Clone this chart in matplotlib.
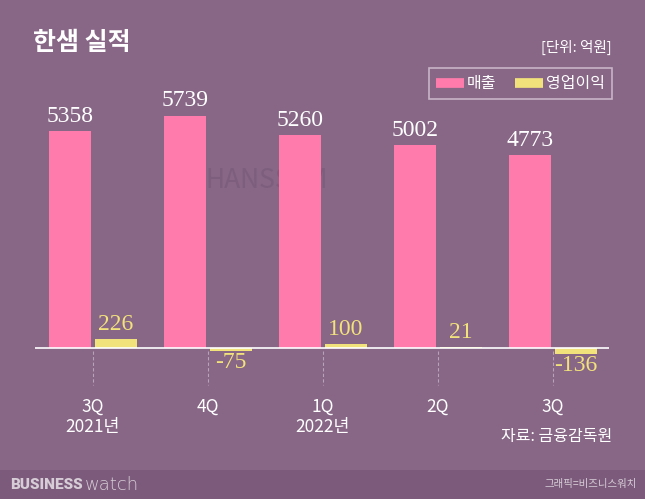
import matplotlib.pyplot as plt
from matplotlib.patches import Rectangle
from matplotlib.lines import Line2D

plt.rcParams['font.family'] = ['Noto Sans CJK KR', 'DejaVu Sans']

# data (억원)
quarters = ['3Q\n2021년', '4Q', '1Q\n2022년', '2Q', '3Q']
sales = [5358, 5739, 5260, 5002, 4773]
op_profit = [226, -75, 100, 21, -136]

bg = '#876686'
pink = '#ff7bac'
yellow = '#f2e27c'

fig = plt.figure(figsize=(6.45, 4.99), dpi=100, facecolor=bg)

# footer band
fig.patches.append(Rectangle((0, 0), 1, 29 / 499, transform=fig.transFigure,
                             facecolor='#7b5a7b', edgecolor='none', zorder=0))

ax = fig.add_axes([35 / 645, 1 - 360 / 499, 574 / 645, 260 / 499])
ax.set_facecolor('none')
for s in ax.spines.values():
    s.set_visible(False)

x = list(range(len(quarters)))
w = 0.36
off = 0.2
ax.bar([i - off for i in x], sales, width=w, color=pink, zorder=2)
ax.bar([i + off for i in x], op_profit, width=w, color=yellow, zorder=2)

ax.set_xlim(-0.504, 4.487)
ax.set_ylim(-296, 6123)
ax.axhline(0, color='white', lw=1.2, zorder=3)

# dashed tick guides
for i in x:
    ax.plot([i, i], [0.035, -0.096], transform=ax.get_xaxis_transform(),
            color='#b9a3b8', lw=0.8, ls=(0, (3, 2)), clip_on=False)

ax.set_yticks([])
ax.set_xticks(x)
ax.set_xticklabels(quarters, color='white', fontsize=12.5, linespacing=1.2)
ax.tick_params(axis='x', length=0, pad=27)

# value labels
for i, v in enumerate(sales):
    ax.annotate(f'{v}', (i - off, v), xytext=(0, 3), textcoords='offset points',
                ha='center', va='bottom', color='white', fontsize=17,
                family='Liberation Serif', zorder=4)
for i, v in enumerate(op_profit):
    if v >= 0:
        ax.annotate(f'{v}', (i + off, v), xytext=(0, 3), textcoords='offset points',
                    ha='center', va='bottom', color=yellow, fontsize=17,
                    family='Liberation Serif', zorder=4)
    else:
        ax.annotate(f'-{abs(v)}', (i + off, v), xytext=(0, -1), textcoords='offset points',
                    ha='center', va='top', color=yellow, fontsize=17,
                    family='Liberation Serif', zorder=4)

# faint watermark behind the bars
ax.text(205 / 645, 1 - 180 / 499, 'HANSSEM', transform=fig.transFigure,
        color='#7d5f7d', fontsize=19, va='center', ha='left', zorder=1)

# title & unit
fig.text(33 / 645, 1 - 43 / 499, '한샘 실적', color='white', fontsize=18,
         fontweight='heavy', va='center', ha='left')
fig.text(612 / 645, 1 - 47 / 499, '[단위: 억원]', color='white', fontsize=10.5,
         va='center', ha='right')

# legend
handles = [Line2D([], [], color=pink, lw=7, solid_capstyle='butt'),
           Line2D([], [], color=yellow, lw=7, solid_capstyle='butt')]
leg = fig.legend(handles, ['매출', '영업이익'], loc='upper right',
                 bbox_to_anchor=(612 / 645, 1 - 68 / 499), ncol=2, frameon=True,
                 fancybox=False, fontsize=11.5, handlelength=1.7,
                 handletextpad=0.2, columnspacing=1.2, borderpad=0.45,
                 borderaxespad=0, labelcolor='white')
leg.get_frame().set_facecolor('none')
leg.get_frame().set_edgecolor('#d9c9d8')
leg.get_frame().set_linewidth(1.2)

# source & footer
fig.text(612 / 645, 1 - 437 / 499, '자료: 금융감독원', color='white', fontsize=11.5,
         va='center', ha='right')
fig.text(10 / 645, 1 - 485 / 499, 'BUSINESS', color='#d7cdd6', fontsize=11,
         fontweight='black', va='center', ha='left', family='Roboto')
fig.text(85 / 645, 1 - 485 / 499, 'watch', color='#d7cdd6', fontsize=13,
         fontweight='light', va='center', ha='left', family='DejaVu Sans')
fig.text(637 / 645, 1 - 484 / 499, '그래픽=비즈니스워치', color='#d7cdd6', fontsize=7.5,
         va='center', ha='right')

fig.savefig('out.png', dpi=100, facecolor=bg)
